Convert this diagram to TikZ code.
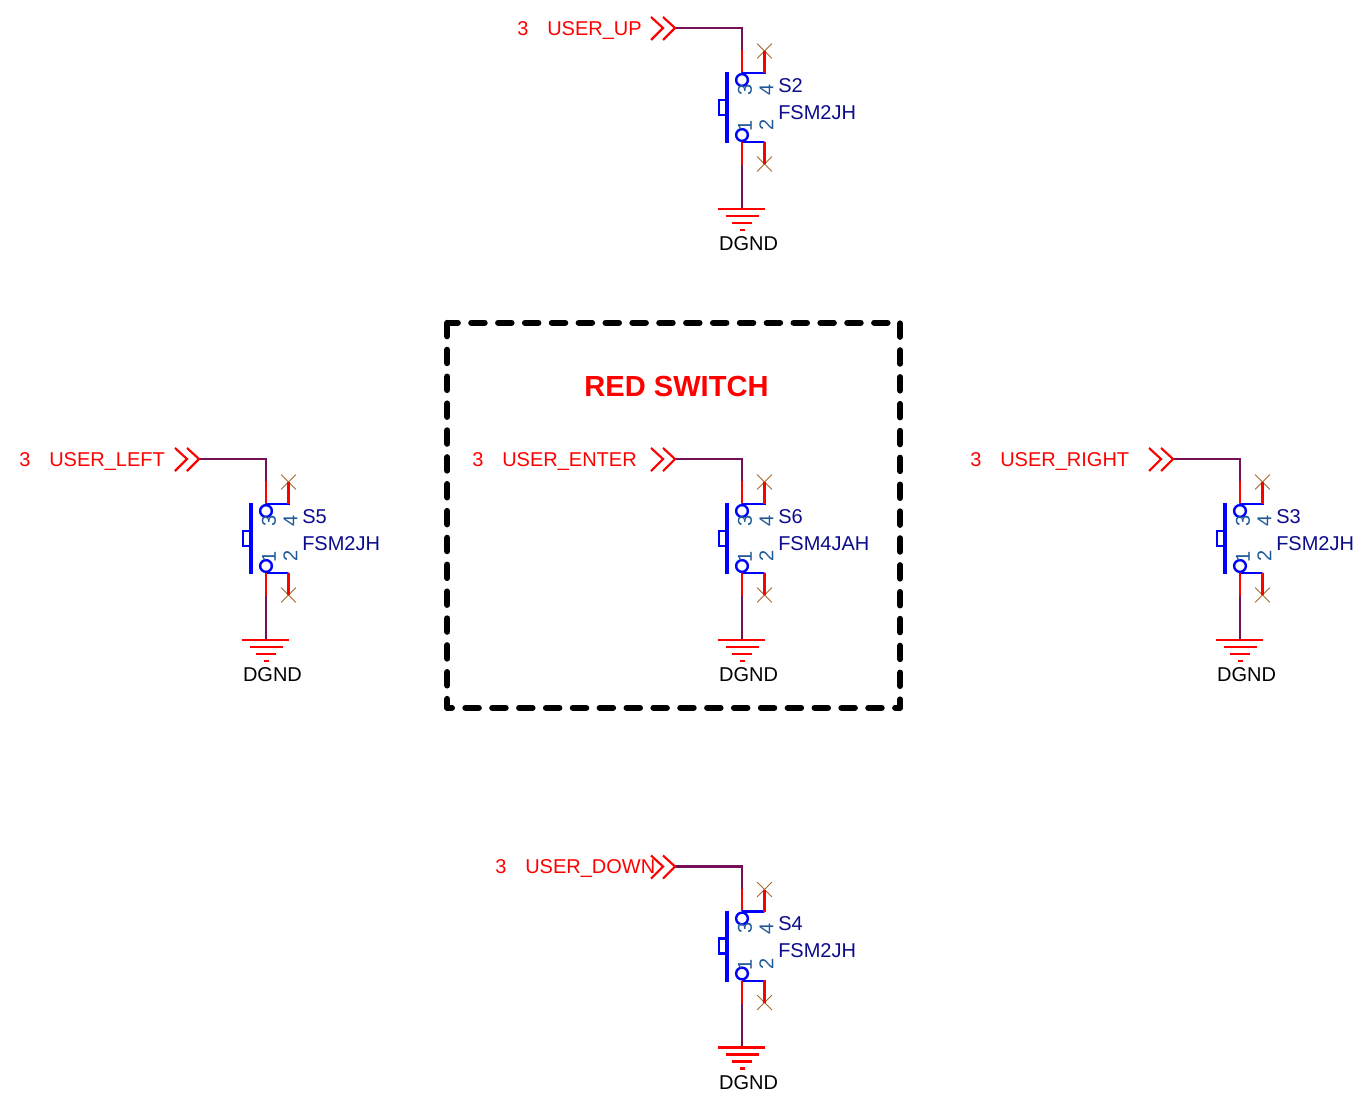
\documentclass[tikz,border=0pt]{standalone}
\usepackage{fontspec}
\setmainfont{Liberation Sans}
\usepackage{tikz}
\usetikzlibrary{arrows,positioning,shapes.misc}
\definecolor{wirered}{HTML}{FF0000}
\definecolor{wirepurple}{HTML}{740F58}
\definecolor{pinblue}{HTML}{0000FF}
\definecolor{pinnum}{HTML}{1F5A96}
\definecolor{partnavy}{HTML}{0B0B8C}
\definecolor{crossbrown}{HTML}{A5682A}
\tikzset{
    %Define style for text
    txt/.style={
           inner sep=0pt,
           font=\fontsize{15}{18}\selectfont},
    nettxt/.style={txt, text=wirered, anchor=base west},
    parttxt/.style={txt, text=partnavy, anchor=base west},
    pinnumtxt/.style={txt, text=pinnum, rotate=90},
    %Define style for switch parts
    pinring/.style={
           circle,
           draw=pinblue,
           line width=1.8pt,
           minimum size=8.8pt,
           inner sep=0pt},
    nocon/.style={
           cross out,
           draw=crossbrown,
           line width=.6pt,
           minimum size=10.5pt,
           inner sep=0pt},
    % Define wire styles
    netwire/.style={draw=wirepurple, line width=1.6pt},
    pinwire/.style={draw=wirered, line width=1.6pt},
    bluewire/.style={draw=pinblue, line width=1.6pt},
    gndbar/.style={draw=wirered, line width=1.6pt},
    plunger/.style={draw=pinblue, line width=3.2pt},
    dashbox/.style={
           draw=black,
           line width=4.65pt,
           line cap=round,
           line join=round,
           dash pattern=on 9.975pt off 10.17pt,
           dash phase=2.145pt}
}
% #1 x, #2 y, #3 name, #4 net, #5 x of net text, #6 part, #7 type
\newcommand{\usersw}[7]{
 \begin{scope}[shift={(#1,#2)}]
 %nodes
 \node[pinring](#3r3) at (0,52){};
 \node[pinring](#3r1) at (0,107){};
 \node[nocon](#3x4) at (22.5,23){};
 \node[nocon](#3x2) at (22.5,136){};
 \coordinate (#3tip) at (-67,0);
 \coordinate (#3bend) at (0,0);
 \coordinate (#3up) at (0,22);
 \coordinate (#3dn) at (0,137);
 \coordinate (#3gnd) at (0,181);
 \node[pinnumtxt](#3n3) at (3,61.5){3};
 \node[pinnumtxt](#3n4) at (24.5,62){4};
 \node[pinnumtxt](#3n1) at (3,98){1};
 \node[pinnumtxt](#3n2) at (24.5,97){2};
 \node[parttxt](#3ref) at (36,64){#3};
 \node[parttxt](#3val) at (36,91){#7};
 \node[txt, anchor=base](#3lab) at (6.5,222.5){DGND};
 \node[nettxt](#3sheet) at (#5-30-#1,7){3};
 \node[nettxt](#3net) at (#5-#1,7){#4};
 %wires
 \path[netwire] (#3tip) -- (#3bend) -- (#3up);
 \path[pinwire] (#3up) -- (#3r3.north);
 \path[bluewire] (#3r3.north) -| (22.5,45);
 \path[pinwire] (22.5,45) -- (#3x4.center);
 \path[bluewire] (#3r1.south) -| (22.5,113.5);
 \path[pinwire] (22.5,113.5) -- (#3x2.center);
 \path[pinwire] (#3r1.south) -- (#3dn);
 \path[netwire] (#3dn) -- (#3gnd);
 %chevrons
 \path[pinwire, line join=miter] (-91,-11) -- (-79,0) -- (-91,12);
 \path[pinwire, line join=miter] (-79,-11) -- (-67,0) -- (-79,12);
 %switch
 \path[plunger] (-15,44) -- (-15,115);
 \path[bluewire] (-15,72) -- (-23,72) -- (-23,87) -- (-15,87);
 %ground
 \path[gndbar] (-24,181) -- (23,181);
 \path[gndbar] (-16,188) -- (17,188);
 \path[gndbar] (-10,195) -- (10,195);
 \path[gndbar] (-2,202) -- (3,202);
 \end{scope}
}

\begin{document}
\begin{tikzpicture}[x=.75pt,y=-.75pt]
\useasboundingbox (0,0) rectangle (1365,1107);

\usersw{742}{28}{S2}{USER\_UP}{547}{S2}{FSM2JH}
\usersw{266}{459}{S5}{USER\_LEFT}{49}{S5}{FSM2JH}
\usersw{742}{459}{S6}{USER\_ENTER}{502}{S6}{FSM4JAH}
\usersw{1240}{459}{S3}{USER\_RIGHT}{1000}{S3}{FSM2JH}
\usersw{742}{866.5}{S4}{USER\_DOWN}{525}{S4}{FSM2JH}

 %box
\coordinate (tl) at (447.3,322.7);
\coordinate (tr) at (900.3,322.7);
\coordinate (br) at (900.3,707.7);
\coordinate (bl) at (447.3,707.7);
\draw[dashbox] (tl) -- (tr) -- (br) -- (bl) -- cycle;
\node[txt, text=wirered, font=\fontsize{21.8}{26}\selectfont\bfseries](title) at (676.5,386){RED SWITCH};

\end{tikzpicture}
\end{document}
